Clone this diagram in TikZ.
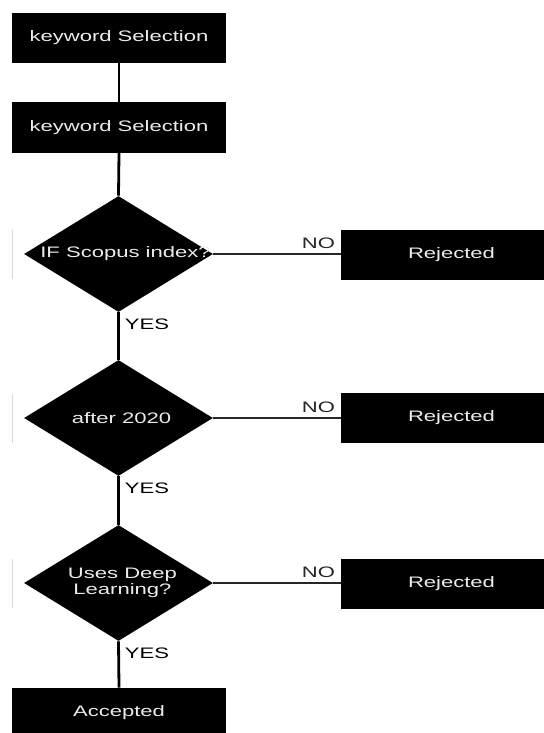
\documentclass[tikz,border=0pt]{standalone}
\usepackage{fontspec}
\setmainfont{Liberation Sans}[FakeStretch=1.45]
\usetikzlibrary{shapes.geometric}

\tikzset{
  box/.style={fill=black,text=white!92!black,minimum width=107pt,minimum height=25pt,
    inner sep=0pt,font=\fontsize{7.6}{8}\selectfont},
  dia/.style={diamond,fill=black,minimum width=94.5pt,minimum height=58pt,inner sep=0pt},
  dtext/.style={text=white!92!black,align=center,inner sep=0pt,font=\fontsize{7.6}{8}\selectfont},
  lbl/.style={inner sep=2.5pt,font=\fontsize{7.6}{8}\selectfont},
  link/.style={line width=1.4pt},
  nolink/.style={line width=0.6pt,black!85},
  edge/.style={gray!30,line width=0.4pt}
}

\begin{document}
\begin{tikzpicture}[x=0.5pt,y=-0.5pt]
  \useasboundingbox (0,0) rectangle (544,733);
  % boxes
  \node[box] (k1) at (119,38) {keyword Selection};
  \node[box] (k2) at (119,127.5) {keyword Selection};
  \node[box] (acc) at (119,713) {Accepted};
  % decisions
  \node[dia] (d1) at (118.5,254) {};
  \node[dia] (d2) at (118.5,418) {};
  \node[dia] (d3) at (118.5,583) {};
  \node[dtext] (t1) at ([xshift=3.5pt]d1) {IF Scopus index?};
  \node[dtext] (t2) at ([xshift=1.5pt]d2) {after 2020};
  \node[dtext] (t3) at ([xshift=2pt]d3) {Uses Deep\\Learning?};
  \node[box,minimum width=110.5pt] (r1) at (451.5,254.5) {Rejected};
  \node[box,minimum width=110.5pt] (r2) at (451.5,418) {Rejected};
  \node[box,minimum width=110.5pt] (r3) at (451.5,583.5) {Rejected};
  % faint marks at the left
  \draw[edge] (12,230) -- (12,279);
  \draw[edge] (12,394) -- (12,443);
  \draw[edge] (12,559) -- (12,608);
  % links
  \draw[link] (k1.south) -- (k2.north);
  \draw[link] (k2.south) -- (d1.north);
  \draw[link] (d1.south) -- node[lbl,pos=0,below right]{YES} (d2.north);
  \draw[link] (d2.south) -- node[lbl,pos=0,below right]{YES} (d3.north);
  \draw[link] (d3.south) -- node[lbl,pos=0,below right]{YES} (acc.north);
  \draw[nolink] (d1.east) -- (d1.east -| r1.west) node[lbl,above left]{NO};
  \draw[nolink] (d2.east) -- (d2.east -| r2.west) node[lbl,above left]{NO};
  \draw[nolink] (d3.east) -- (d3.east -| r3.west) node[lbl,above left]{NO};
\end{tikzpicture}
\end{document}
